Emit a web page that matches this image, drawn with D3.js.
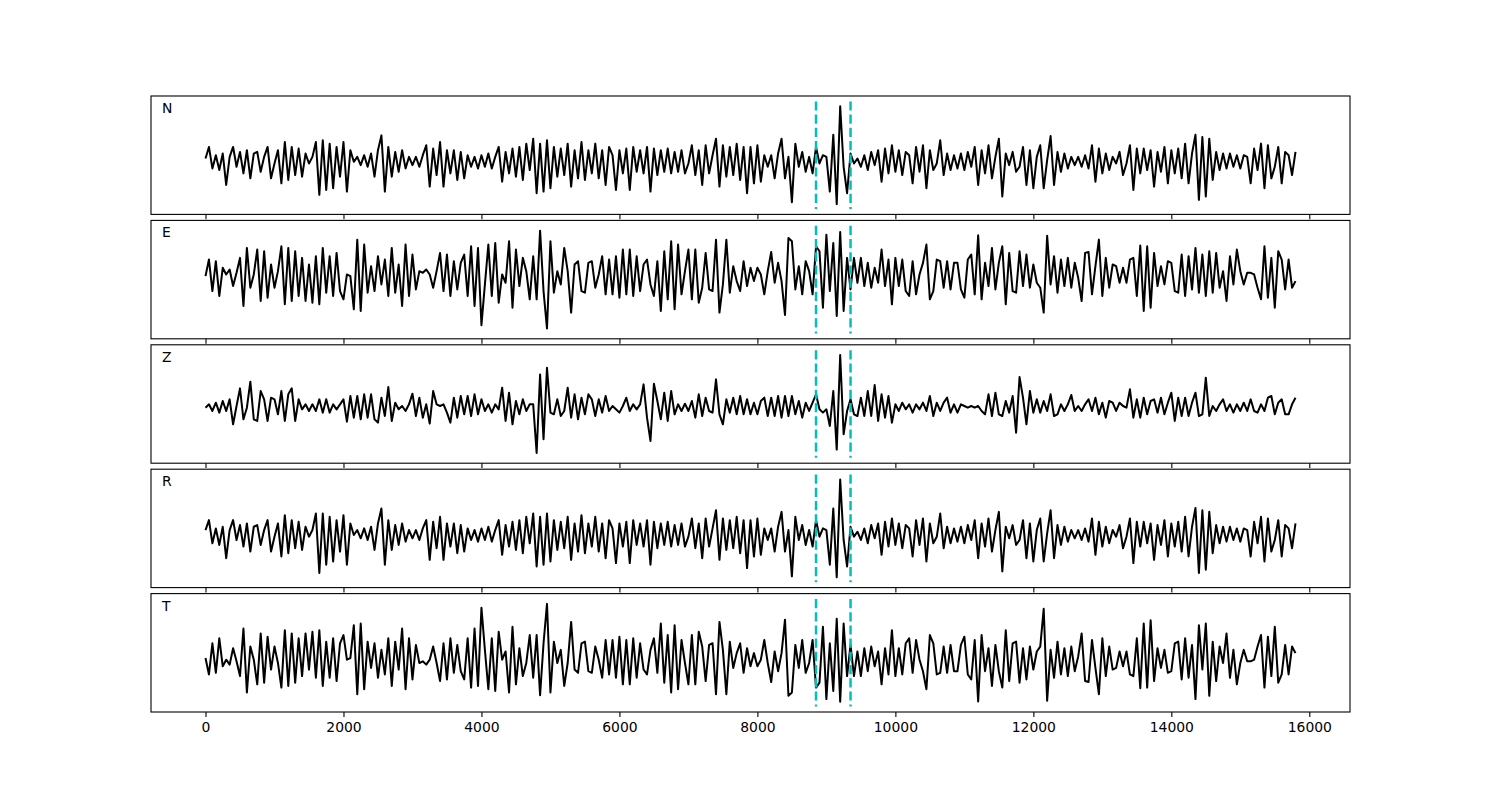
<!DOCTYPE html>
<html>
<head>
<meta charset="utf-8">
<script src="https://cdn.jsdelivr.net/npm/d3@7"></script>
<style>
  body { margin: 0; background: #fff; }
  text { font-family: "DejaVu Sans", sans-serif; }
</style>
</head>
<body>
<div id="chart"></div>
<script>
'use strict';

// channel names, top to bottom
var channels = ['N', 'E', 'Z', 'R', 'T'];

// one sample every 50 time units, first sample at 0
var sampleInterval = 50;

var traceN = [
  5, 40, -25, 15, -30, 20, -75, 10, 40, -20, 25, -40, 30, -55, 20, 25, -35, 10, 40, -55,
  -10, 30, -70, 55, -60, 40, -45, 35, -50, 20, -10, 10, 55, -105, 60, -90, 50, -85, 40, -50,
  55, -95, 30, -5, 10, -15, 15, -20, 20, -50, 30, 75, -95, 40, -50, 25, -35, 30, -25, 10,
  -15, 10, -20, 15, 45, -80, 35, -45, 55, -80, 30, -40, 30, -60, 25, -55, 15, -20, 10, -25,
  15, -20, 20, -25, 10, 40, -65, 25, -40, 35, -50, 40, -60, 50, -30, 65, -100, 50, -95, 60,
  -85, 40, -50, 35, -45, 50, -80, 30, -55, 55, -60, 30, -40, 50, -55, 30, -75, 40, 15, -90,
  30, -40, 35, -90, 40, -35, 30, -40, 40, -95, 35, -45, 30, -35, 35, -40, 25, -35, 30, -40,
  -10, 45, -45, 30, -75, 45, -40, 15, 65, -80, 45, -50, 40, -45, 50, -60, 40, -100, 40, -70,
  45, -65, 15, -20, 15, -55, 20, 65, -55, 10, -127, 50, -20, 25, -35, 10, -40, 40, -10, 15,
  10, -95, 77, -133, 163, -20, -100, 20, -10, 5, -20, 15, -30, 25, -15, 30, -65, 35, -40, 45,
  -35, 30, -45, 25, 15, -70, 40, -35, 45, -85, 30, -30, -10, 60, -45, 20, -30, 15, -25, 20,
  -30, 25, -20, 40, -75, 30, -40, 45, -55, 10, 65, -110, 20, -15, 25, -35, -20, 40, -75, 30,
  -85, 10, 45, -85, 0, 73, -75, 25, -35, 20, -25, 10, -15, 10, -20, 15, -25, 45, -65, 35,
  -40, 20, -30, 10, -10, 25, -45, -10, 45, -90, 35, -40, 35, -30, 30, -80, 25, -35, 40, -70,
  30, -40, 35, -55, 50, -70, 20, 77, -120, 70, -110, 65, -60, 25, -30, 20, -25, 20, -20, 15,
  -25, 15, 10, -70, 35, -30, 50, -85, 45, -55, -20, 40, -70, 25, 15, -45, 25
];

var traceE = [
  5, 55, -40, 50, -55, 30, 10, 25, -25, 15, 60, -85, 90, -30, 10, 85, -70, 80, -60, 40,
  -30, 20, 95, -80, 90, -70, 80, -55, 60, -70, 40, -75, 65, -80, 90, -45, 65, -55, 75, -40,
  -65, 10, 5, -95, 115, -100, 100, -45, 35, -40, 65, -20, 55, -55, 90, -45, 40, -85, 100, -55,
  70, -35, 20, 15, 25, 10, -30, 20, 75, -40, 70, -55, 50, -35, 45, 70, -55, 95, -85, 90,
  -143, -20, 100, -55, 105, -75, 10, -15, 110, -90, 85, -25, 60, 20, -65, 65, -65, 142, -40, -153,
  110, -45, 20, -20, 90, 20, -105, 40, 50, -40, -45, 45, 50, -30, 10, 65, -50, 55, -50, 65,
  -60, 85, -50, 85, -55, 65, -40, 40, 55, -20, -55, 50, -100, 80, -65, 110, -95, 100, -50, 20,
  85, -65, 85, -75, -30, 75, -35, -40, 115, -105, -20, 115, -45, 35, -10, -40, 50, -25, 30, -10,
  30, 10, -50, 20, 78, -15, 45, -10, -112, 120, 110, -35, 35, -50, 50, 20, -50, 95, 80, -90,
  130, -40, 105, -115, 138, -100, 60, -35, 60, -15, 60, -25, 45, -30, 30, -15, 85, -25, 55, -80,
  60, -25, 55, -40, -55, 50, -50, 10, 45, 100, -65, -40, 55, 50, -30, 50, -35, 45, 45, -35,
  -60, 55, 70, -50, 128, -65, 45, -25, 90, -35, 45, 95, -80, 75, -40, -45, 80, -25, 70, -30,
  40, -15, -30, -105, 127, -20, 65, -45, 55, -25, 60, -30, 45, 0, -70, 75, 78, -50, 35, 115,
  -55, 60, -30, 40, 35, -15, 30, -15, 55, 60, -55, 97, -100, 95, -90, 75, -25, 35, -20, 50,
  45, -40, -45, 70, -55, 65, -35, 90, -45, 70, -55, 80, -45, 75, -30, 20, -70, 65, -20, 85,
  20, -20, 15, 15, 10, -30, -65, 95, -60, 60, -90, 80, 55, -35, 55, -30, -10
];

var traceZ = [
  0, 10, -10, 15, -15, 20, -10, 25, -50, 5, 58, -35, 0, 78, -35, -40, 50, 25, -40, 30,
  25, -20, 50, -40, 40, 58, -40, 25, -5, 10, -10, 10, -10, 25, -15, 25, -15, 10, -5, 10,
  25, -42, 35, -30, 35, -35, 40, -30, 40, -35, -45, 30, -25, 62, -40, 15, -5, 5, -10, 10,
  42, -25, 30, -30, 10, -48, 50, 10, 5, 10, -15, -45, 30, -30, 35, -20, 35, -25, 40, -20,
  25, -10, 10, -15, 10, -5, 60, -40, 45, -50, 20, -20, 25, -10, 10, 10, -136, 100, -95, 120,
  -15, -20, 25, -25, -10, 60, -30, 40, -35, 30, -20, 40, 25, -25, 25, -15, 35, -10, 5, -5,
  -15, 5, 30, -10, 10, -5, 10, 70, -30, -100, 72, 20, -35, 45, -40, 50, -20, 10, -10, 12,
  -10, 20, -30, 40, -25, 30, -10, -15, 85, -20, -50, 25, -15, 30, -20, 35, -20, 25, -20, 15,
  -20, 20, 30, -25, 30, -25, 35, -30, 35, -25, 35, -20, 20, -30, 15, -10, 15, 40, -5, -15,
  -5, -55, 50, -126, 158, -80, -10, 25, -20, -25, 30, -25, 50, -25, 68, -40, 40, -30, 35, -45,
  10, -10, 15, -5, 10, -15, 10, -5, 15, -10, 35, -25, 15, -10, 15, 30, -15, 10, -15, 10,
  5, 0, 5, 0, 5, -10, -20, 40, -25, 45, -20, -25, 20, -15, 35, -75, 92, 30, -50, 50,
  -15, 25, -15, 20, -10, 40, -25, -20, 10, -10, 10, 38, -10, 5, -10, 10, 25, -10, 30, -20,
  15, -30, 20, 15, -10, 15, 5, 0, 55, -30, 25, -30, 30, -20, 20, 25, -15, 30, -20, 15,
  45, -40, 30, -25, 30, -25, 15, 45, -25, -20, 90, -25, 5, -10, 10, 25, -10, 10, -15, 10,
  -10, 15, -10, 25, -10, -15, 10, -10, 30, 35, -20, 15, 25, -20, -20, 10, 30
];

var traceR = [
  10, 40, -30, 15, -35, 20, -75, 10, 40, -20, 25, -40, 30, -55, 20, 25, -35, 10, 40, -55,
  -10, 30, -70, 55, -60, 40, -45, 35, -50, 20, -10, 10, 60, -120, 60, -95, 50, -85, 40, -55,
  55, -95, 30, -5, 10, -15, 15, -20, 20, -50, 30, 75, -95, 40, -50, 25, -35, 30, -25, 10,
  -15, 10, -20, 15, 40, -80, 35, -45, 50, -80, 30, -40, 30, -60, 25, -55, 15, -20, 10, -25,
  15, -20, 20, -25, 10, 40, -65, 25, -40, 35, -50, 40, -60, 50, -30, 60, -100, 50, -95, 60,
  -85, 40, -50, 35, -45, 50, -80, 30, -55, 55, -60, 30, -40, 50, -55, 30, -75, 40, 15, -90,
  30, -40, 35, -90, 40, -35, 30, -40, 40, -95, 35, -45, 30, -35, 35, -40, 25, -35, 30, -40,
  -10, 45, -45, 30, -75, 45, -40, 15, 70, -80, 45, -50, 40, -45, 50, -60, 40, -105, 40, -70,
  45, -65, 15, -20, 15, -55, 20, 65, -55, 10, -130, 50, -20, 25, -35, 10, -40, 40, -10, 15,
  10, -95, 75, -133, 163, -20, -100, 20, -10, 5, -20, 15, -30, 25, -15, 30, -65, 35, -40, 45,
  -35, 30, -45, 25, 15, -70, 40, -35, 45, -85, 30, -30, -10, 60, -45, 20, -30, 15, -25, 20,
  -30, 25, -20, 40, -75, 30, -40, 45, -55, 10, 65, -115, 20, -15, 25, -35, -20, 40, -75, 30,
  -85, 10, 45, -85, 0, 70, -75, 25, -35, 20, -25, 10, -15, 10, -20, 15, -25, 45, -65, 35,
  -40, 20, -30, 10, -10, 25, -45, -10, 45, -90, 35, -40, 35, -30, 30, -80, 25, -35, 40, -70,
  30, -40, 35, -55, 50, -70, 20, 77, -120, 70, -110, 65, -60, 25, -30, 20, -25, 20, -20, 15,
  -25, 15, 10, -70, 35, -30, 50, -85, 45, -55, -20, 40, -70, 25, 15, -45, 30
];

var traceT = [
  -5, -55, 40, -50, 55, -30, -10, -25, 25, -15, -60, 85, -110, 30, -10, -85, 70, -80, 60, -40,
  30, -20, -95, 80, -90, 70, -80, 55, -60, 70, -40, 75, -65, 80, -90, 45, -65, 55, -75, 40,
  65, -10, -5, 95, -115, 100, -100, 45, -35, 40, -65, 20, -55, 55, -90, 45, -40, 85, -100, 55,
  -70, 35, -20, -15, -25, -10, 30, -20, -75, 40, -70, 55, -50, 35, -45, -70, 55, -95, 85, -90,
  148, 20, -100, 55, -105, 75, -10, 15, -110, 90, -85, 25, -60, -20, 65, -65, 65, -118, 40, 160,
  -110, 45, -20, 20, -90, -20, 105, -40, -50, 40, 45, -45, -50, 30, -10, -65, 50, -55, 50, -65,
  60, -85, 50, -85, 55, -65, 40, -40, -55, 20, 55, -50, 100, -80, 65, -110, 95, -100, 50, -20,
  -85, 65, -85, 75, 30, -75, 35, 40, -115, 105, 20, -115, 45, -35, 10, 40, -50, 25, -30, 10,
  -30, -10, 50, -20, -78, 15, -45, 10, 112, -120, -110, 35, -35, 50, -50, -20, 50, -95, -80, 90,
  -130, 40, -105, 115, -138, 100, -60, 35, -60, 15, -60, 25, -45, 30, -30, 15, -85, 25, -55, 80,
  -60, 25, -55, 40, 55, -50, 50, -10, -45, -100, 65, 40, -55, -50, 30, -50, 35, -45, -45, 35,
  60, -55, -70, 50, -137, 65, -45, 25, -90, 35, -45, -95, 80, -75, 40, 45, -80, 25, -70, 30,
  -40, 15, 30, 145, -135, 20, -65, 45, -55, 25, -60, 30, -45, 0, 70, -75, -78, 50, -35, -115,
  55, -60, 30, -40, -35, 15, -30, 15, -55, -60, 55, -97, 100, -95, 110, -75, 25, -35, 20, -50,
  -45, 40, 45, -70, 55, -65, 35, -130, 95, -40, 100, -120, 45, -75, 30, -20, 70, -65, 20, -85,
  -20, 20, -15, -15, -10, 30, 65, -95, 60, -60, 90, -80, -55, 35, -55, 30, 10
];

var traces = [traceN, traceE, traceZ, traceR, traceT];

// the two dashed time marks
var markerTimes = [8850, 9350];

var tickValues = [0, 2000, 4000, 6000, 8000, 10000, 12000, 14000, 16000];
var timeDomain = [-790, 16590];

var width = 1500;
var height = 800;
var margins = { top: 96, right: 150, bottom: 88, left: 151 };
var panelGap = 6;
var panelHeight = (height - margins.top - margins.bottom - panelGap * (channels.length - 1)) / channels.length;
var plotWidth = width - margins.left - margins.right;

var svg = d3.select('#chart')
  .append('svg')
  .attr('width', width)
  .attr('height', height);

var xScale = d3.scaleLinear().domain(timeDomain).range([0, plotWidth]);

var line = d3.line()
  .x(function(d, i) { return xScale(i * sampleInterval); });

channels.forEach(function(name, k) {
  var values = traces[k];
  var top = margins.top + k * (panelHeight + panelGap);

  // marks stretch 5% past the trace, the axis another 5% past the marks
  var ext = d3.extent(values);
  var pad = (ext[1] - ext[0]) * 0.05;
  var markExtent = [ext[0] - pad, ext[1] + pad];
  var markPad = (markExtent[1] - markExtent[0]) * 0.05;

  var yScale = d3.scaleLinear()
    .domain([markExtent[0] - markPad, markExtent[1] + markPad])
    .range([panelHeight, 0]);

  var g = svg.append('g')
    .attr('class', 'panel')
    .attr('transform', 'translate(' + margins.left + ',' + top + ')');

  g.append('path')
    .datum(values)
    .attr('fill', 'none')
    .attr('stroke', '#000')
    .attr('stroke-width', 2)
    .attr('stroke-linejoin', 'round')
    .attr('d', line.y(function(d) { return yScale(d); }));

  g.selectAll('.mark')
    .data(markerTimes)
    .enter()
    .append('line')
    .attr('class', 'mark')
    .attr('x1', function(d) { return xScale(d); })
    .attr('x2', function(d) { return xScale(d); })
    .attr('y1', yScale(markExtent[1]))
    .attr('y2', yScale(markExtent[0]))
    .attr('stroke', '#00bfbf')
    .attr('stroke-width', 2.5)
    .attr('stroke-dasharray', '9.2,4');

  var axis = d3.axisBottom(xScale)
    .tickValues(tickValues)
    .tickSize(4.9)
    .tickPadding(4.9)
    .tickFormat(d3.format('d'));
  if (k < channels.length - 1) axis.tickFormat('');

  var axisGroup = g.append('g')
    .attr('transform', 'translate(0,' + panelHeight + ')')
    .call(axis);
  axisGroup.select('.domain').remove();
  axisGroup.selectAll('text')
    .attr('font-size', '13.9px')
    .attr('font-family', '"DejaVu Sans", sans-serif')
    .attr('fill', '#000');
  axisGroup.selectAll('line').attr('stroke', '#000').attr('stroke-width', 1.1);

  g.append('rect')
    .attr('x', 0)
    .attr('y', 0)
    .attr('width', plotWidth)
    .attr('height', panelHeight)
    .attr('fill', 'none')
    .attr('stroke', '#000')
    .attr('stroke-width', 1.1);

  g.append('text')
    .attr('x', 11)
    .attr('y', 17)
    .attr('font-size', '13.9px')
    .attr('fill', '#000')
    .text(name);
});
</script>
</body>
</html>
